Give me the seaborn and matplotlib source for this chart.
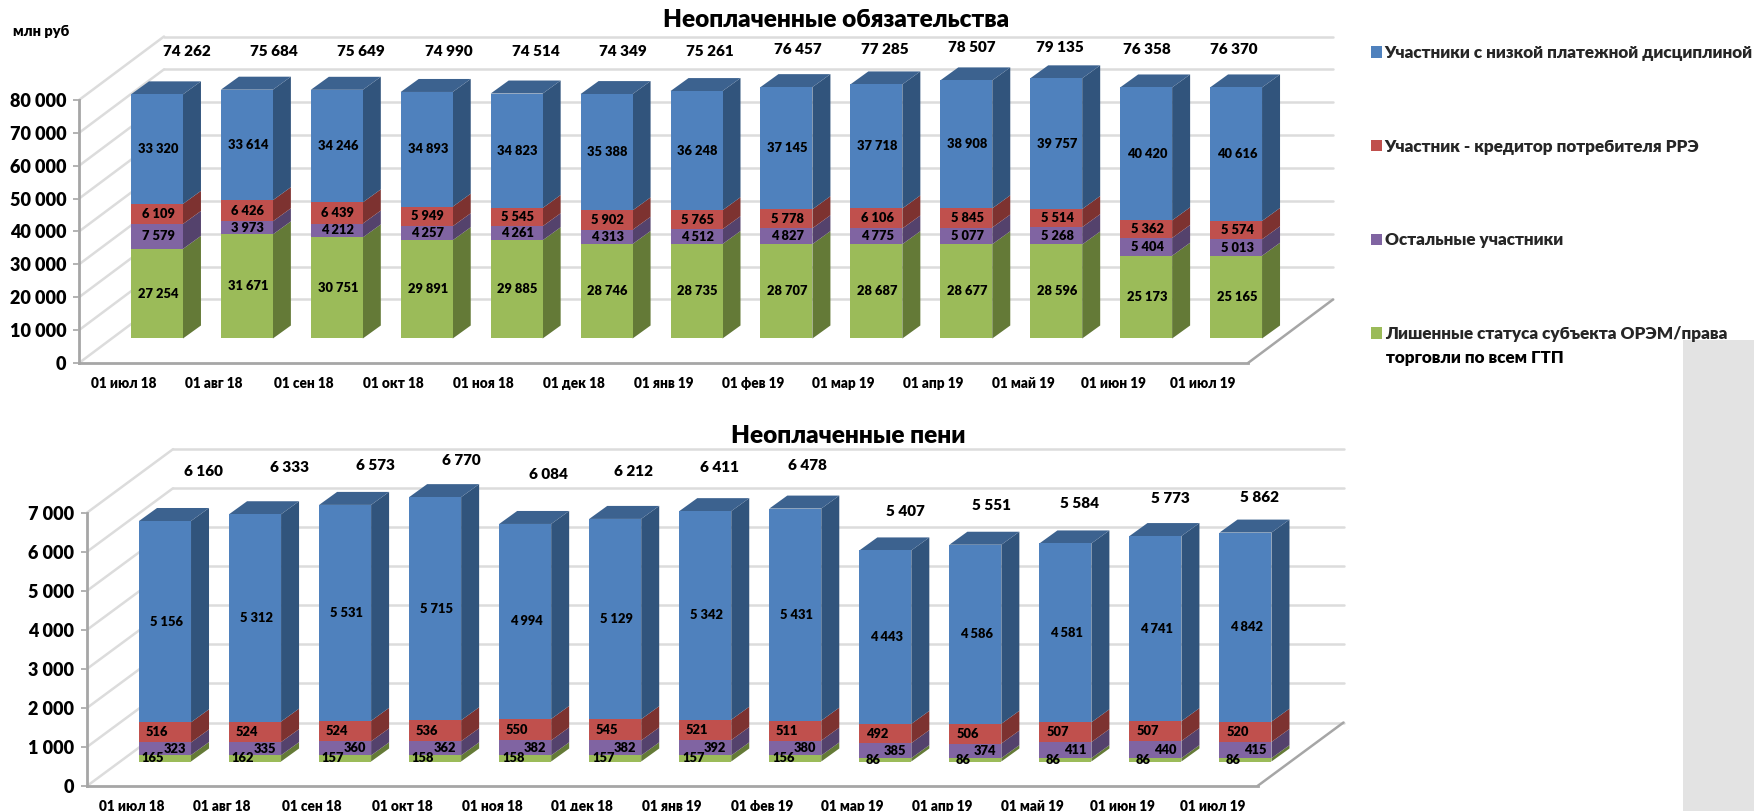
import numpy as np
import matplotlib
matplotlib.use("Agg")
import matplotlib.pyplot as plt
from matplotlib import font_manager as fm
from matplotlib.patches import Rectangle
from matplotlib.transforms import ScaledTranslation
import seaborn as sns

# ---------- data ----------
dates = ["01 июл 18", "01 авг 18", "01 сен 18", "01 окт 18", "01 ноя 18", "01 дек 18", "01 янв 19",
         "01 фев 19", "01 мар 19", "01 апр 19", "01 май 19", "01 июн 19", "01 июл 19"]
names = ["Участники с низкой платежной дисциплиной", "Участник - кредитор потребителя РРЭ",
         "Остальные участники", "Лишенные статуса субъекта ОРЭМ/права"]
name_tail = "торговли по всем ГТП"

debt_green = [27254, 31671, 30751, 29891, 29885, 28746, 28735, 28707, 28687, 28677, 28596, 25173, 25165]
debt_purple = [7579, 3973, 4212, 4257, 4261, 4313, 4512, 4827, 4775, 5077, 5268, 5404, 5013]
debt_red = [6109, 6426, 6439, 5949, 5545, 5902, 5765, 5778, 6106, 5845, 5514, 5362, 5574]
debt_blue = [33320, 33614, 34246, 34893, 34823, 35388, 36248, 37145, 37718, 38908, 39757, 40420, 40616]
debt_total = [74262, 75684, 75649, 74990, 74514, 74349, 75261, 76457, 77285, 78507, 79135, 76358, 76370]

fine_green = [165, 162, 157, 158, 158, 157, 157, 156, 86, 86, 86, 86, 86]
fine_purple = [323, 335, 360, 362, 382, 382, 392, 380, 385, 374, 411, 440, 415]
fine_red = [516, 524, 524, 536, 550, 545, 521, 511, 492, 506, 507, 507, 520]
fine_blue = [5156, 5312, 5531, 5715, 4994, 5129, 5342, 5431, 4443, 4586, 4581, 4741, 4842]
fine_total = [6160, 6333, 6573, 6770, 6084, 6212, 6411, 6478, 5407, 5551, 5584, 5773, 5862]

# ---------- layout (pixels of the output image) ----------
W, H = 1754, 811
debt_label_x = [187, 274, 361, 449, 536, 623, 710, 798, 885, 972, 1060, 1147, 1234]
debt_label_y = [52, 52, 52, 52, 52, 52, 52, 49, 49, 47, 47, 49, 49]
fine_label_x = [203, 289, 375, 461, 548, 634, 720, 807, 905, 991, 1080, 1170, 1259]
fine_label_y = [471, 468, 466, 460, 474, 471, 468, 466, 512, 506, 503, 499, 498]

face = {"green": "#9bbb59", "purple": "#8064a2", "red": "#c0504d", "blue": "#4f81bd"}
side = {"green": "#647a37", "purple": "#54426c", "red": "#7d3230", "blue": "#31547c"}
top_face = "#3c628f"
grid_c = "#dcdcdc"
axis_c = "#a6a6a6"

sns.set_theme(style="white")


def has_cyrillic(name):
    try:
        path = fm.findfont(name, fallback_to_default=False)
        return ord("Ч") in fm.get_font(path).get_charmap()
    except Exception:
        return False


fam = [f for f in ["Lato", "Roboto", "DejaVu Sans"] if has_cyrillic(f)]
plt.rcParams["font.family"] = fam
plt.rcParams["font.weight"] = "heavy"

fig = plt.figure(figsize=(W / 100, H / 100), dpi=100, facecolor="white")


def fx(x):
    return x / W


def fy(y):
    return 1 - y / H


fig.patches.append(Rectangle((fx(1683), 0), fx(W) - fx(1683), fy(340), transform=fig.transFigure,
                             facecolor="#e3e3e3", edgecolor="none", zorder=0))


def panel(left, right, y0, ytop, ymax, step, floor_dx, floor_dy, stacks, totals, label_x, label_y, small):
    ax = fig.add_axes([fx(left), fy(y0), fx(right) - fx(left), fy(ytop) - fy(y0)], facecolor="none")
    ax.patch.set_alpha(0)
    shift = lambda dx, dy: ax.transData + ScaledTranslation(dx / 100, dy / 100, fig.dpi_scale_trans)
    px_x = (right - left) / 13
    px_y = (y0 - ytop) / ymax
    base_dx, base_dy = 33, 24.5
    depth_dx, depth_dy = 18 / px_x, 13 / px_y
    bw = 52 / px_x

    bottom = np.zeros(len(dates))
    for key, vals in stacks:
        vals = np.array(vals, dtype=float)
        n_before = len(ax.patches)
        sns.barplot(x=dates, y=vals, bottom=bottom, order=dates, color=face[key], saturation=1,
                    width=bw, ax=ax, zorder=4, linewidth=0)
        for p in ax.patches[n_before:]:
            p.set_transform(shift(base_dx, base_dy))
            p.set_clip_on(False)
        for i, (v, b) in enumerate(zip(vals, bottom)):
            xr = i + bw / 2
            ax.fill([xr, xr + depth_dx, xr + depth_dx, xr],
                    [b, b + depth_dy, b + v + depth_dy, b + v],
                    color=side[key], lw=0, zorder=3, transform=shift(base_dx, base_dy), clip_on=False)
            if small and key != "blue":
                nudge = {"green": -12, "purple": 10, "red": -8}[key]
            else:
                nudge = 1
            txt = f"{int(v):,}".replace(",", " ")
            ax.text(i, b + v / 2, txt, ha="center", va="center", fontsize=9.3, color="black", zorder=6,
                    transform=shift(base_dx + nudge, base_dy), clip_on=False)
        bottom = bottom + vals
    for i, b in enumerate(bottom):
        xl, xr = i - bw / 2, i + bw / 2
        ax.fill([xl, xr, xr + depth_dx, xl + depth_dx], [b, b, b + depth_dy, b + depth_dy],
                color=top_face, lw=0, zorder=3, transform=shift(base_dx, base_dy), clip_on=False)

    ax.set_xlim(-0.5, 12.5)
    ax.set_ylim(0, ymax)

    # walls and floor
    ticks = np.arange(0, ymax + step, step)
    for t in ticks:
        ax.plot([-0.5, 12.5], [t, t], color=grid_c, lw=1.8, zorder=1,
                transform=shift(floor_dx, floor_dy), clip_on=False)
        ax.plot([-0.5, -0.5 + floor_dx / px_x], [t, t + floor_dy / px_y], color=grid_c, lw=1.8, zorder=1,
                clip_on=False)
    ax.plot([12.5, 12.5 + floor_dx / px_x], [0, floor_dy / px_y], color=axis_c, lw=1.8, zorder=2, clip_on=False)

    for s in ["top", "right"]:
        ax.spines[s].set_visible(False)
    for s in ["left", "bottom"]:
        ax.spines[s].set_color(axis_c)
        ax.spines[s].set_linewidth(2)
    ax.set_yticks(ticks)
    ax.set_yticklabels([f"{int(t):,}".replace(",", " ") for t in ticks], fontsize=13, color="black")
    ax.set_xticks(np.arange(-0.5, 13, 1))
    ax.set_xticklabels([""] * 14)
    ax.set_xticks(np.arange(13), labels=dates, minor=True)
    ax.tick_params(axis="x", which="minor", length=0, labelsize=9.8, pad=18, labelcolor="black")
    for lab in ax.get_xticklabels(minor=True):
        lab.set_va("baseline")
    ax.tick_params(axis="x", which="major", length=4, width=1.2, color=axis_c)
    ax.tick_params(axis="y", length=4, width=1.2, color=axis_c, pad=5, left=True)
    ax.set_xlabel("")
    ax.set_ylabel("")

    for t, x, y in zip(totals, label_x, label_y):
        fig.text(fx(x), fy(y), f"{t:,}".replace(",", " "), ha="center", va="center", fontsize=11, color="black")
    return ax


debt_ax = panel(79, 1248, 363, 100, 80000, 10000, 85, 63.5,
                [("green", debt_green), ("purple", debt_purple), ("red", debt_red), ("blue", debt_blue)],
                debt_total, debt_label_x, debt_label_y, False)
fine_ax = panel(87, 1257.5, 786, 512.7, 7000, 1000, 86, 63.5,
                [("green", fine_green), ("purple", fine_purple), ("red", fine_red), ("blue", fine_blue)],
                fine_total, fine_label_x, fine_label_y, True)

fig.text(fx(836), fy(20), "Неоплаченные обязательства", ha="center", va="center", fontsize=17.6, color="black")
fig.text(fx(848), fy(436), "Неоплаченные пени", ha="center", va="center", fontsize=17.6, color="black")
fig.text(fx(13), fy(32), "млн руб", ha="left", va="center", fontsize=10.5, color="black")

handles = [Rectangle((0, 0), 1, 1, facecolor=face[k], edgecolor="none") for k in ["blue", "red", "purple", "green"]]
fig.legend(handles, names, loc="upper left", bbox_to_anchor=(fx(1371), fy(45)), frameon=False, fontsize=12.3,
           labelspacing=4.55, handlelength=0.65, handleheight=0.65, handletextpad=0.15, borderpad=0, borderaxespad=0)
fig.text(fx(1386), fy(358), name_tail, ha="left", va="center", fontsize=12.3, color="black")

fig.savefig("out.png", dpi=100)
